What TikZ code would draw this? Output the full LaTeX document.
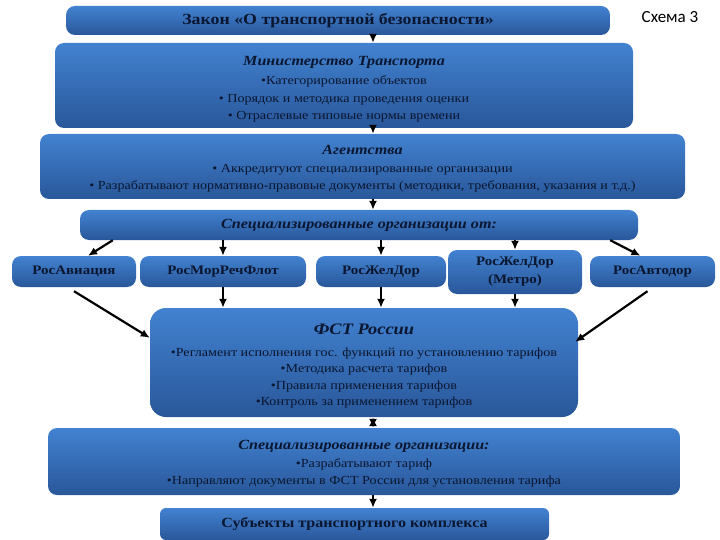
\documentclass[tikz,border=0pt]{standalone}
\usepackage{fontspec}
\setmainfont{Liberation Serif}[FakeStretch=1.15]
\newfontfamily\schemefont{Carlito}
\usetikzlibrary{arrows.meta,calc}

\definecolor{boxtop}{HTML}{4282D0}
\definecolor{boxbot}{HTML}{29579A}
\definecolor{boxtext}{HTML}{0B1630}

\tikzset{
  box/.style={rounded corners=9pt, top color=boxtop, bottom color=boxbot,
    draw=none, text=boxtext, align=center, inner sep=0pt},
  arr/.style={-{Latex[length=9pt,width=8pt]}, line width=2.2pt, black},
  dblarr/.style={{Latex[length=9pt,width=8pt]}-{Latex[length=9pt,width=8pt]}, line width=2.2pt, black},
}

\begin{document}
\begin{tikzpicture}[x=1pt,y=-1pt,font=\fontsize{12.3}{17.5}\selectfont]
  \useasboundingbox[fill=white] (0,0) rectangle (720,540);
  % --- law and the chain below it ---
  \node[box, minimum width=544pt, minimum height=29pt, font=\bfseries\fontsize{15.5}{18}\selectfont]
    (law) at (338,20.5) {Закон «О транспортной безопасности»};
  \node[font=\schemefont\fontsize{17}{19}\selectfont] (scheme) at (670,17) {Схема 3};
  \node[box, minimum width=578pt, minimum height=85pt] (min) at (344,85.5)
    {\rule{0pt}{17pt}{\bfseries\itshape\fontsize{14}{19}\selectfont Министерство Транспорта}\\[2pt]
     •Категорирование объектов\\
     • Порядок и методика проведения оценки\\
     • Отраслевые типовые нормы времени};
  \node[box, minimum width=645pt, minimum height=65pt] (agn) at (362.5,166.5)
    {\rule{0pt}{14pt}{\bfseries\itshape\fontsize{14}{18}\selectfont Агентства}\\
     • Аккредитуют специализированные организации\\
     • Разрабатывают нормативно-правовые документы (методики, требования, указания и т.д.)};
  \node[box, minimum width=558pt, minimum height=30pt, font=\bfseries\itshape\fontsize{14}{18}\selectfont]
    (spec) at (359,225) {Специализированные организации от:};
  % --- the five federal agencies ---
  \node[box, minimum width=124pt, minimum height=31pt, font=\bfseries\fontsize{13}{15}\selectfont]
    (ra) at (74,271.5) {РосАвиация};
  \node[box, minimum width=166pt, minimum height=31pt, font=\bfseries\fontsize{13}{15}\selectfont]
    (rmrf) at (223,271.5) {РосМорРечФлот};
  \node[box, minimum width=130pt, minimum height=31pt, font=\bfseries\fontsize{13}{15}\selectfont]
    (rzd) at (381,271.5) {РосЖелДор};
  \node[box, minimum width=134pt, minimum height=44pt, font=\bfseries\fontsize{13}{18}\selectfont]
    (metro) at (515,272) {РосЖелДор\\(Метро)};
  \node[box, minimum width=125pt, minimum height=31pt, font=\bfseries\fontsize{13}{15}\selectfont]
    (rad) at (652.5,271.5) {РосАвтодор};
  % --- tariff service and below ---
  \node[box, minimum width=428pt, minimum height=109pt, rounded corners=16pt] (fst) at (364,362.5)
    {\rule{0pt}{18pt}{\bfseries\itshape\fontsize{16}{23}\selectfont ФСТ России}\\[4pt]
     •Регламент исполнения гос. функций по установлению тарифов\\[-1pt]
     •Методика расчета тарифов\\[-1pt]
     •Правила применения тарифов\\[-1pt]
     •Контроль за применением тарифов};
  \node[box, minimum width=632pt, minimum height=67pt] (org) at (364,461.5)
    {\rule{0pt}{14pt}{\bfseries\itshape\fontsize{14}{18}\selectfont Специализированные организации:}\\
     •Разрабатывают тариф\\
     •Направляют документы в ФСТ России для установления тарифа};
  \node[box, minimum width=389pt, minimum height=32pt, rounded corners=6pt, font=\bfseries\fontsize{14}{18}\selectfont]
    (subj) at (354.5,524) {Субъекты транспортного комплекса};
  % --- connectors ---
  \coordinate (spine) at (373,0);
  \draw[arr] (law.south -| spine) -- (min.north -| spine);
  \draw[arr] (min.south -| spine) -- (agn.north -| spine);
  \draw[arr] (agn.south -| spine) -- (spec.north -| spine);
  \draw[arr] ($(spec.south west)+(33,0)$) -- ($(ra.north)+(14,0)$);
  \draw[arr] (spec.south -| rmrf) -- (rmrf.north);
  \draw[arr] (spec.south -| rzd) -- (rzd.north);
  \draw[arr] (spec.south -| metro) -- (metro.north);
  \draw[arr] ($(spec.south east)+(-28,0)$) -- ($(rad.north)+(-12,0)$);
  \draw[arr] ($(ra.south)+(0,4)$) -- ($(fst.north west)+(0,30)$);
  \draw[arr] (rmrf.south) -- (fst.north -| rmrf);
  \draw[arr] (rzd.south) -- (fst.north -| rzd);
  \draw[arr] (metro.south) -- (fst.north -| metro);
  \draw[arr] ($(rad.south)+(-5,4)$) -- ($(fst.north east)+(-3,34)$);
  \draw[dblarr] (fst.south -| spine) -- (org.north -| spine);
  \draw[arr] (org.south -| spine) -- (subj.north -| spine);
\end{tikzpicture}
\end{document}
